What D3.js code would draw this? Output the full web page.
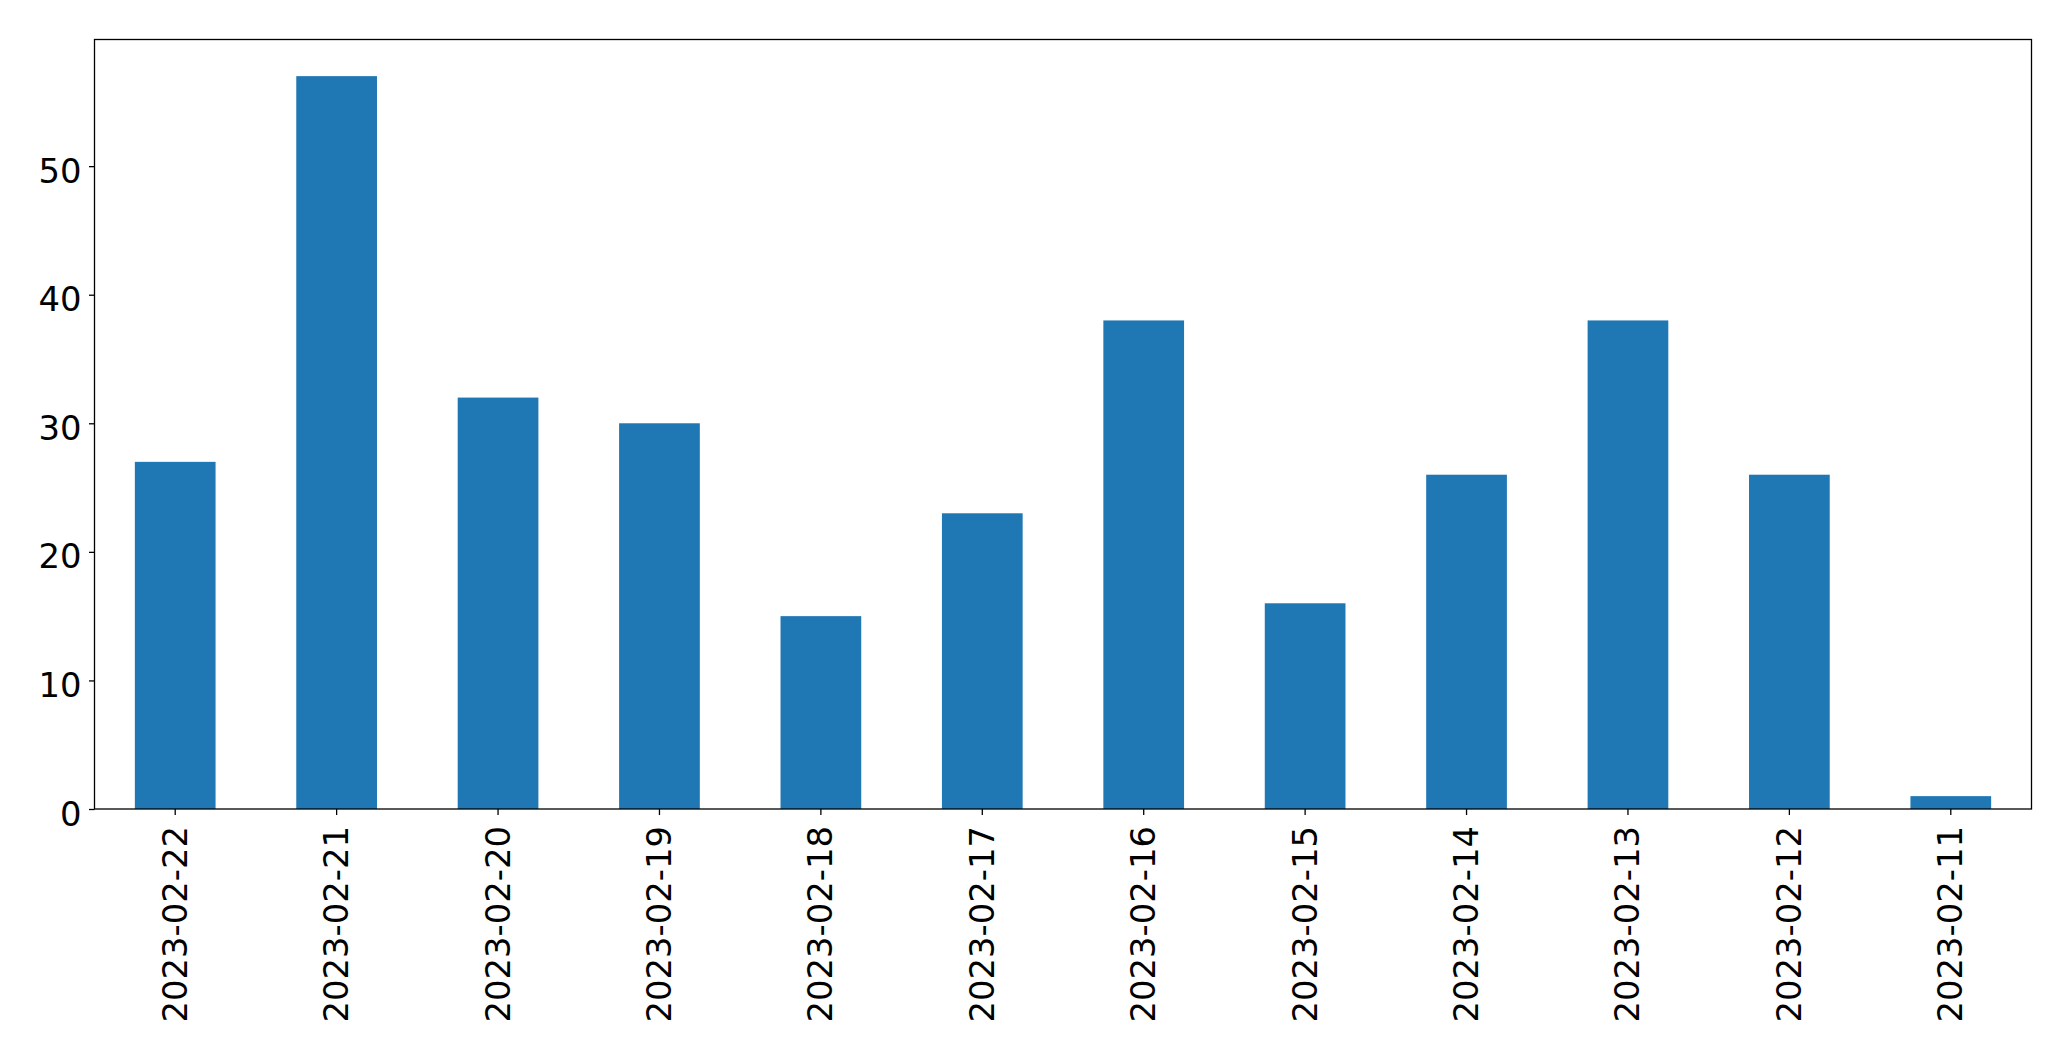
<!DOCTYPE html>
<html>
<head>
<meta charset="utf-8">
<script src="https://cdn.jsdelivr.net/npm/d3@7"></script>
<style>
  html, body { margin: 0; padding: 0; background: #fff; }
  svg { display: block; }
</style>
</head>
<body>
<svg id="chart" width="2071" height="1061"></svg>
<script>
const categories = ["2023-02-22","2023-02-21","2023-02-20","2023-02-19","2023-02-18","2023-02-17","2023-02-16","2023-02-15","2023-02-14","2023-02-13","2023-02-12","2023-02-11"];
const values = [27, 57, 32, 30, 15, 23, 38, 16, 26, 38, 26, 1];
const yTicks = [0, 10, 20, 30, 40, 50];

const W = 2071, H = 1061;
const m = { left: 94.5, right: 2031.5, top: 39.5, bottom: 809 };
const fs = 33.8;
const font = "'DejaVu Sans', sans-serif";
const barColor = "#1f77b4";

const svg = d3.select("#chart");

const x = d3.scaleBand().domain(categories).range([m.left, m.right]).paddingInner(0.5).paddingOuter(0.25);
const y = d3.scaleLinear().domain([0, d3.max(values) * 1.05]).range([m.bottom, m.top]);

// bars
svg.append("g").selectAll("rect").data(values).join("rect")
  .attr("x", (d, i) => x(categories[i]))
  .attr("width", x.bandwidth())
  .attr("y", d => y(d))
  .attr("height", d => y(0) - y(d))
  .attr("fill", barColor);

// frame
svg.append("rect")
  .attr("x", m.left).attr("y", m.top)
  .attr("width", m.right - m.left).attr("height", m.bottom - m.top)
  .attr("fill", "none").attr("stroke", "#000").attr("stroke-width", 1.3);

// y axis
const yAxis = d3.axisLeft(y).tickValues(yTicks).tickSize(5.5).tickPadding(7.5).tickFormat(d3.format("d"));
const gy = svg.append("g").attr("transform", `translate(${m.left},0)`).call(yAxis);
gy.select(".domain").remove();
gy.selectAll(".tick line").attr("stroke", "#000").attr("stroke-width", 1.3);
gy.selectAll(".tick text")
  .attr("font-family", font).attr("font-size", fs).attr("fill", "#000")
  .attr("dy", null).attr("y", 16).attr("dominant-baseline", "alphabetic");

// x axis
const xAxis = d3.axisBottom(x).tickSize(6).tickPadding(0);
const gx = svg.append("g").attr("transform", `translate(0,${m.bottom})`).call(xAxis);
gx.select(".domain").remove();
gx.selectAll(".tick line").attr("stroke", "#000").attr("stroke-width", 1.3);
gx.selectAll(".tick text")
  .attr("font-family", font).attr("font-size", fs).attr("fill", "#000")
  .attr("dy", null).attr("y", null)
  .attr("text-anchor", "end")
  .attr("dominant-baseline", "central")
  .attr("transform", "translate(0,17) rotate(-90)");
</script>
</body>
</html>
